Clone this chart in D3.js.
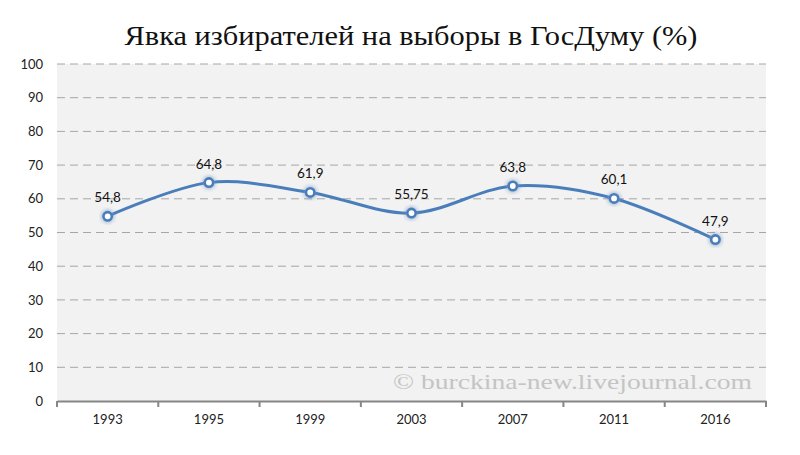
<!DOCTYPE html>
<html><head><meta charset="utf-8">
<script src="https://cdn.jsdelivr.net/npm/d3@7"></script>
<style>body{margin:0;background:#fff}</style>
</head><body>
<svg id="c" width="800" height="455"></svg>
<script>
const categories = ["1993","1995","1999","2003","2007","2011","2016"];
const turnout = [54.8, 64.8, 61.9, 55.75, 63.8, 60.1, 47.9];
const valueLabels = ["54,8","64,8","61,9","55,75","63,8","60,1","47,9"];
const yTicks = [0,10,20,30,40,50,60,70,80,90,100];
const title = "Явка избирателей на выборы в ГосДуму (%)";
const watermark = "© burckina-new.livejournal.com";

const svg = d3.select("#c");
const L = 57, R = 766, T = 64, B = 401;
const x = d3.scaleBand().domain(categories).range([L, R]);
const y = d3.scaleLinear().domain([0, 100]).range([B, T]);
const font = "Lato, 'Open Sans', sans-serif";

svg.append("rect").attr("x", L).attr("y", T).attr("width", R - L).attr("height", B - T).attr("fill", "#f2f2f2");

// gridlines
svg.append("g").selectAll("line").data(yTicks.filter(d => d > 0)).join("line")
  .attr("x1", L).attr("x2", R).attr("y1", d => y(d)).attr("y2", d => y(d))
  .attr("stroke", "#a6a6a6").attr("stroke-width", 1).attr("stroke-dasharray", "8,5");

// y axis labels
const ya = svg.append("g").attr("transform", `translate(${L},0)`)
  .call(d3.axisLeft(y).tickValues(yTicks).tickSize(0).tickPadding(14));
ya.select(".domain").remove();
ya.selectAll("text").attr("font-family", font).attr("font-size", 13).attr("fill", "#222");

// watermark
svg.append("text").attr("x", 393).attr("y", 389).attr("font-family", "'Liberation Serif', serif")
  .attr("font-size", 22).attr("fill", "#c4c4c4").attr("textLength", 359).attr("lengthAdjust", "spacingAndGlyphs")
  .text(watermark);

// x axis
const xa = svg.append("g").attr("transform", `translate(0,${B})`)
  .call(d3.axisBottom(x).tickSize(0).tickPadding(14));
xa.select(".domain").attr("stroke", "#868686").attr("stroke-width", 2);
xa.selectAll("text").attr("font-family", font).attr("font-size", 13).attr("fill", "#222");
const bounds = categories.map(c => x(c)).concat([R]);
svg.append("g").selectAll("line").data(bounds).join("line")
  .attr("x1", d => d).attr("x2", d => d).attr("y1", B).attr("y2", B + 6)
  .attr("stroke", "#868686").attr("stroke-width", 2);

// glow filter
const defs = svg.append("defs");
const f = defs.append("filter").attr("id", "glow").attr("x", "-50%").attr("y", "-50%").attr("width", "200%").attr("height", "200%");
f.append("feGaussianBlur").attr("stdDeviation", 2).attr("result", "b");
const m = f.append("feMerge");
m.append("feMergeNode").attr("in", "b");
m.append("feMergeNode").attr("in", "SourceGraphic");

const cx = d => x(d) + x.bandwidth() / 2;
const line = d3.line().x((d, i) => cx(categories[i])).y(d => y(d)).curve(d3.curveCardinal.tension(0));
svg.append("path").datum(turnout).attr("d", line).attr("fill", "none")
  .attr("stroke", "#4a7ebb").attr("stroke-width", 3);

svg.append("g").selectAll("circle").data(turnout).join("circle")
  .attr("cx", (d, i) => cx(categories[i])).attr("cy", d => y(d)).attr("r", 4.2)
  .attr("fill", "#fff").attr("stroke", "#4a7ebb").attr("stroke-width", 2.6).attr("filter", "url(#glow)");

svg.append("g").selectAll("text").data(turnout).join("text")
  .attr("x", (d, i) => cx(categories[i])).attr("y", d => y(d) - 14)
  .attr("text-anchor", "middle").attr("font-family", font).attr("font-size", 13.5).attr("fill", "#111")
  .text((d, i) => valueLabels[i]);

svg.append("text").attr("x", 411).attr("y", 45).attr("text-anchor", "middle")
  .attr("font-family", "'Liberation Serif', serif").attr("font-size", 27).attr("fill", "#111")
  .attr("textLength", 573).attr("lengthAdjust", "spacingAndGlyphs").text(title);
</script>
</body></html>
